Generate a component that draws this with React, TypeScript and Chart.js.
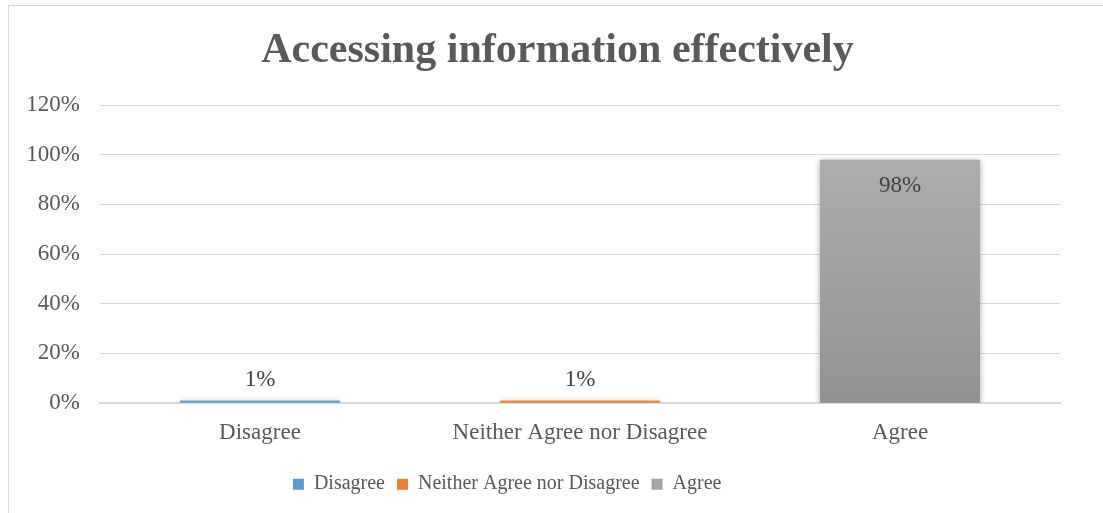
import React, { useEffect, useRef } from 'react';
import { Chart, registerables } from 'chart.js';

Chart.register(...registerables);

const title = 'Accessing information effectively';
const categories = ['Disagree', 'Neither Agree nor Disagree', 'Agree'];
const values = [1, 1, 98];
const valueLabels = ['1%', '1%', '98%'];
const legendColors = ['#5b9bd5', '#ed7d31', '#a5a5a5'];
const gradientTop = ['#6ba6dc', '#f28c45', '#adadad'];
const gradientBottom = ['#4d8cc8', '#dc6d22', '#929292'];
const yTickValues = [0, 20, 40, 60, 80, 100, 120];

const FONT = "'Liberation Serif', 'Times New Roman', serif";
const TEXT = '#595959';
const GRID = '#d9d9d9';

const outerBorder = {
  id: 'outerBorder',
  beforeDraw(chart: any) {
    const ctx = chart.ctx;
    ctx.save();
    ctx.fillStyle = '#ffffff';
    ctx.fillRect(0, 0, chart.width, chart.height);
    ctx.strokeStyle = GRID;
    ctx.lineWidth = 1;
    ctx.strokeRect(8.5, 5.5, chart.width + 50, chart.height + 50);
    ctx.restore();
  },
  afterLayout(chart: any) {
    // Excel places the legend slightly left of the chart centre
    if (chart.legend) {
      chart.legend.left -= 26;
      chart.legend.right -= 26;
    }
  },
  afterDraw(chart: any) {
    const ctx = chart.ctx;
    ctx.save();
    ctx.font = `bold 42px ${FONT}`;
    ctx.fillStyle = TEXT;
    ctx.textAlign = 'center';
    ctx.textBaseline = 'middle';
    ctx.fillText(title, chart.width / 2 + 6, 51);
    ctx.restore();
  },
};

const barEffects = {
  id: 'barEffects',
  beforeDatasetsDraw(chart: any) {
    const ctx = chart.ctx;
    ctx.save();
    ctx.shadowColor = 'rgba(0,0,0,0.35)';
    ctx.shadowBlur = 6;
    ctx.shadowOffsetX = 0;
    ctx.shadowOffsetY = 1;
  },
  afterDatasetsDraw(chart: any) {
    const ctx = chart.ctx;
    ctx.restore();
    const meta = chart.getDatasetMeta(0);
    ctx.save();
    ctx.font = `23px ${FONT}`;
    ctx.fillStyle = '#404040';
    ctx.textAlign = 'center';
    ctx.textBaseline = 'middle';
    meta.data.forEach((bar: any, i: number) => {
      const h = bar.base - bar.y;
      const y = h > 50 ? bar.y + 26 : bar.y - 21;
      ctx.fillText(valueLabels[i], bar.x, y);
    });
    ctx.restore();
  },
};

export default function App() {
  const ref = useRef<HTMLCanvasElement | null>(null);

  useEffect(() => {
    document.body.style.margin = '0';
    const canvas = ref.current!;
    const chart = new Chart(canvas, {
      type: 'bar',
      data: {
        labels: categories,
        datasets: [
          {
            data: values,
            backgroundColor: (c: any) => {
              const i = c.dataIndex ?? 0;
              const ch = c.chart;
              const area = ch.chartArea;
              if (!area || !ch.scales.y) return legendColors[i];
              const yTop = ch.scales.y.getPixelForValue(values[i]);
              const yBot = ch.scales.y.getPixelForValue(0);
              const g = ch.ctx.createLinearGradient(0, yTop, 0, Math.max(yBot, yTop + 1));
              g.addColorStop(0, gradientTop[i]);
              g.addColorStop(1, gradientBottom[i]);
              return g;
            },
            borderWidth: 0,
            categoryPercentage: 1,
            barPercentage: 0.5,
          },
        ],
      },
      options: {
        responsive: false,
        animation: false,
        devicePixelRatio: 1,
        layout: { padding: { top: 105, left: 6.3, right: 43, bottom: 8.8 } },
        plugins: {
          title: { display: false },
          legend: {
            display: true,
            position: 'bottom',
            onClick: () => {},
            labels: {
              boxWidth: 11,
              boxHeight: 11,
              padding: 12,
              color: TEXT,
              font: { family: FONT, size: 20 },
              generateLabels: () =>
                categories.map((c, i) => ({
                  text: c,
                  fillStyle: legendColors[i],
                  strokeStyle: legendColors[i],
                  lineWidth: 0,
                  hidden: false,
                  index: i,
                  fontColor: TEXT,
                })),
            },
          },
          tooltip: { enabled: false },
        },
        scales: {
          x: {
            grid: { display: false, drawTicks: false },
            border: { display: true, color: GRID, width: 2 },
            ticks: { color: TEXT, font: { family: FONT, size: 23 }, padding: 15.8 },
          },
          y: {
            min: 0,
            max: 120,
            afterBuildTicks: (scale: any) => {
              scale.ticks = yTickValues.map((v) => ({ value: v }));
            },
            ticks: {
              color: TEXT,
              font: { family: FONT, size: 23 },
              padding: 20,
              callback: (v: any) => `${v}%`,
            },
            grid: { color: GRID, lineWidth: 1, drawTicks: false },
            border: { display: false },
          },
        },
      },
      plugins: [outerBorder, barEffects],
    });
    return () => chart.destroy();
  }, []);

  return (
    <canvas
      ref={ref}
      width={1103}
      height={513}
      style={{ position: 'fixed', left: 0, top: 0, width: 1103, height: 513 }}
    />
  );
}
